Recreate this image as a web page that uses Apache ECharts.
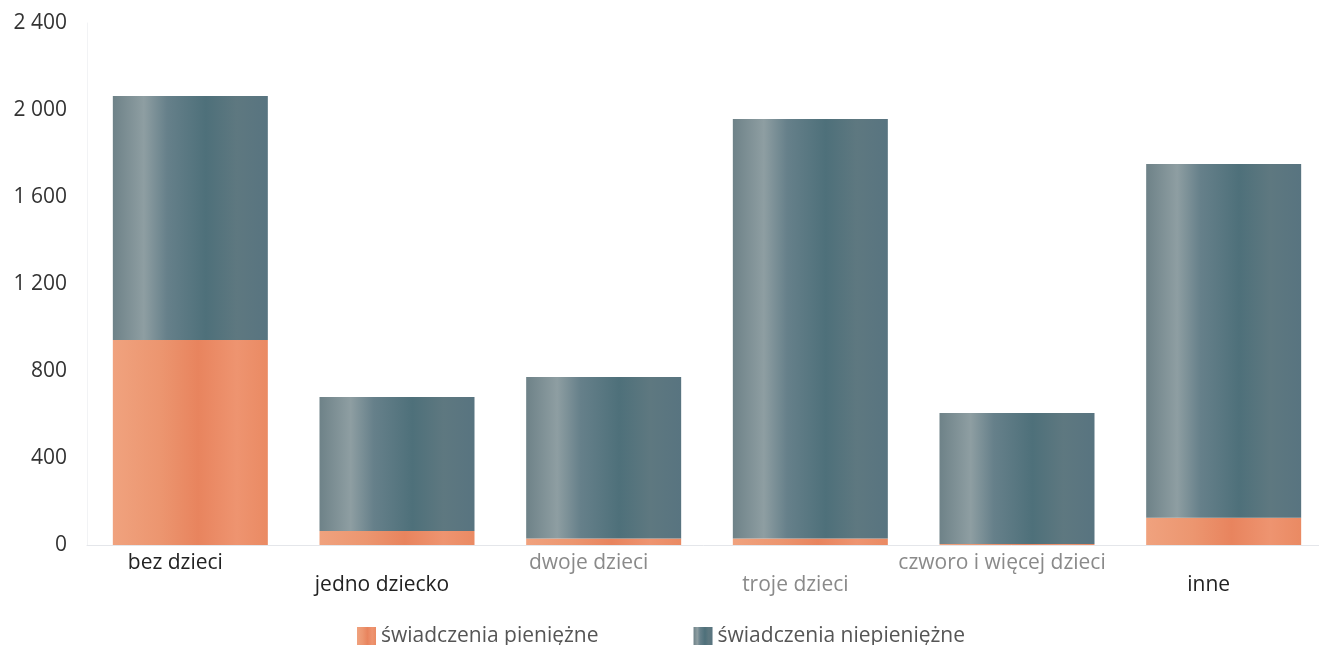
<!DOCTYPE html>
<html><head><meta charset="utf-8">
<script src="https://cdn.jsdelivr.net/npm/echarts@6/dist/echarts.min.js"></script>
<style>html,body{margin:0;padding:0;background:#fff}#c{width:1319px;height:645px}</style>
</head><body><div id="c"></div>
<script>
const categories = ['bez dzieci', 'jedno dziecko', 'dwoje dzieci', 'troje dzieci', 'czworo i więcej dzieci', 'inne'];
const seriesNames = ['świadczenia pieniężne', 'świadczenia niepieniężne'];
const pieniezne = [943, 64, 30, 30, 5, 125];
const niepieniezne = [1121, 616, 742, 1929, 602, 1627];
const yTicks = [0, 400, 800, 1200, 1600, 2000, 2400];

const orangeGrad = new echarts.graphic.LinearGradient(0, 0, 1, 0, [
  {offset: 0, color: '#F0A27E'}, {offset: 0.3, color: '#EC9670'},
  {offset: 0.55, color: '#E8845E'}, {offset: 0.8, color: '#EE9470'}, {offset: 1, color: '#EA8A63'}]);
const grayGrad = new echarts.graphic.LinearGradient(0, 0, 1, 0, [
  {offset: 0, color: '#6E8288'}, {offset: 0.2, color: '#8E9EA2'}, {offset: 0.35, color: '#66808A'},
  {offset: 0.6, color: '#4E707A'}, {offset: 0.8, color: '#5E7880'}, {offset: 1, color: '#587480'}]);

const labelDark = [true, true, false, false, false, true];
const FONT = 'Open Sans';
const chart = echarts.init(document.getElementById('c'), null, {renderer: 'canvas'});
chart.setOption({
  animation: false,
  backgroundColor: '#fff',
  grid: {left: 87, width: 1240, top: 23, bottom: 100, outerBoundsMode: 'none', containLabel: false},
  legend: {
    top: 621, left: 352, itemWidth: 19, itemHeight: 19, itemGap: 95,
    icon: 'rect',
    textStyle: {fontFamily: FONT, fontSize: 21, color: '#555'},
    data: seriesNames
  },
  xAxis: {
    type: 'category', data: categories,
    axisLine: {lineStyle: {color: '#E4E6EA', width: 1}},
    axisTick: {show: false},
    axisLabel: {
      interval: 0, margin: 8,
      formatter: (v, i) => '{' + (labelDark[i] ? 'd' : 'g') + (i % 2) + '|' + v + '}',
      rich: {
        d0: {fontFamily: FONT, fontSize: 21, color: '#222', padding: [0, 30, 0, 0]},
        d1: {fontFamily: FONT, fontSize: 21, color: '#222', padding: [22, 30, 0, 0]},
        g0: {fontFamily: FONT, fontSize: 21, color: '#8A8A8A', padding: [0, 30, 0, 0]},
        g1: {fontFamily: FONT, fontSize: 21, color: '#8A8A8A', padding: [22, 30, 0, 0]}
      }
    }
  },
  yAxis: {
    type: 'value', min: 0, max: 2400, interval: 400,
    axisLine: {show: true, lineStyle: {color: '#F2F3F5'}},
    axisTick: {show: false},
    splitLine: {show: false},
    axisLabel: {
      margin: 20, fontFamily: FONT, fontSize: 21, color: '#333',
      formatter: v => yTicks.includes(v) ? String(v).replace(/\B(?=(\d{3})+(?!\d))/g, ' ') : ''
    }
  },
  series: [
    {name: seriesNames[0], type: 'bar', stack: 's', barWidth: 155, data: pieniezne,
     itemStyle: {color: orangeGrad}},
    {name: seriesNames[1], type: 'bar', stack: 's', barWidth: 155, data: niepieniezne,
     itemStyle: {color: grayGrad}}
  ]
});
</script></body></html>
